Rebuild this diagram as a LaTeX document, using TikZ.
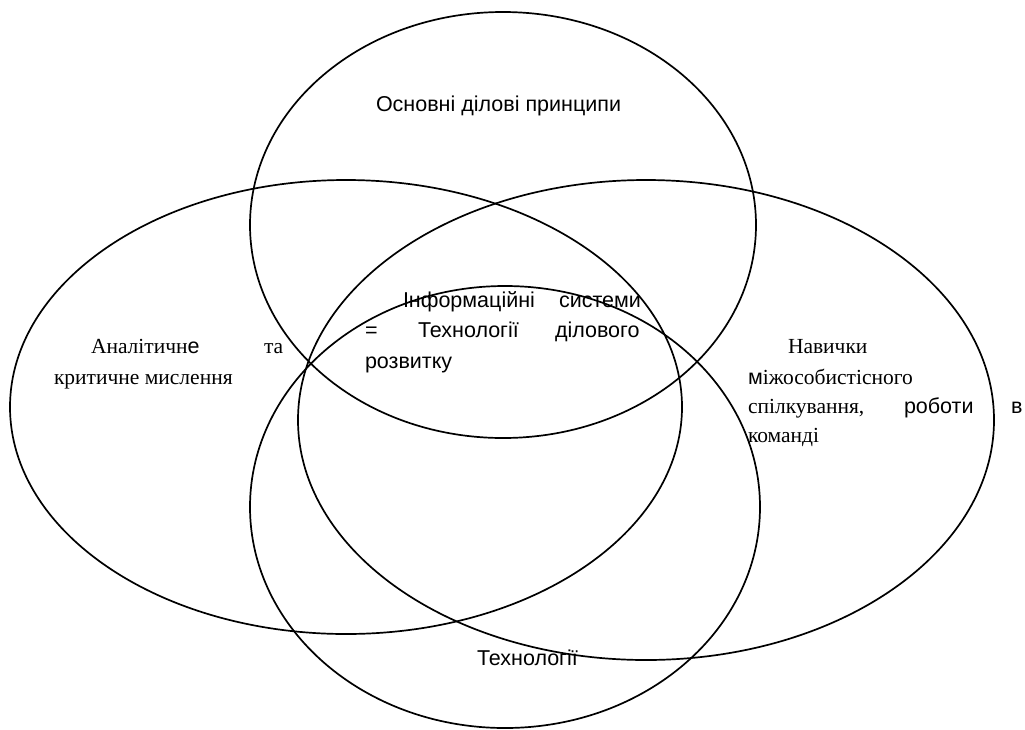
\documentclass[tikz,border=0pt]{standalone}
\usepackage{fontspec}
\setmainfont{Liberation Serif}
\newfontfamily\sansf{Liberation Sans}
\begin{document}
\begin{tikzpicture}[x=1pt,y=-1pt,
  venn/.style={draw=black,line width=1.7pt},
  word/.style={anchor=base west,inner sep=0pt,outer sep=0pt,font=\fontsize{21.5}{30}\selectfont},
  sword/.style={word,font=\fontsize{21.5}{30}\sansf}]
\useasboundingbox (0,0) rectangle (1025,729);
% ellipses
\draw[venn] (503,225) ellipse [x radius=253, y radius=213];
\draw[venn] (346,407) ellipse [x radius=336, y radius=227];
\draw[venn] (646,420) ellipse [x radius=348, y radius=240];
\draw[venn] (505,507) ellipse [x radius=255, y radius=221];
% top
\node[sword] (top) at (376,111) {Основні ділові принципи};
% centre
\node[sword] (c1a) at (403,307) {Інформаційні};
\node[sword] (c1b) at (559,307) {системи};
\node[sword] (c2a) at (365,337) {=};
\node[sword] (c2b) at (418,337) {Технології};
\node[sword] (c2c) at (555,337) {ділового};
\node[sword] (c3a) at (365,368) {розвитку};
% left
\node[word] (l1a) at (91,353) {Аналітичн{\sansf е}};
\node[word] (l1b) at (264,353) {та};
\node[word] (l2a) at (54,384) {критичне мислення};
% right
\node[word] (r1) at (788,353) {Навички};
\node[word] (r2) at (748,384) {{\sansf м}іжособистісного};
\node[word] (r3a) at (748,413) {спілкування,};
\node[sword] (r3b) at (904,413) {роботи};
\node[sword] (r3c) at (1011,413) {в};
\node[word] (r4) at (748,442) {команді};
% bottom
\node[sword] (bot) at (477,665) {Технології};
\end{tikzpicture}
\end{document}
